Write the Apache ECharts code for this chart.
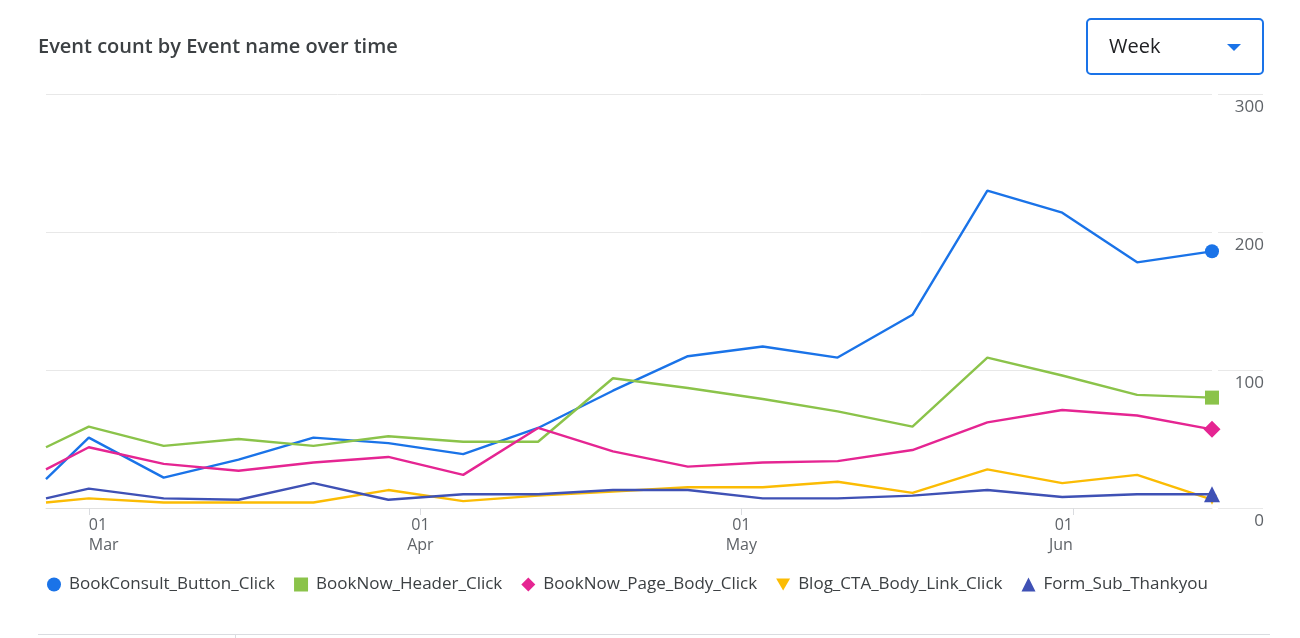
<!DOCTYPE html>
<html>
<head>
<meta charset="utf-8">
<script src="https://cdn.jsdelivr.net/npm/echarts@6/dist/echarts.min.js"></script>
<style>
  html, body { margin: 0; padding: 0; background: #fff; }
  #chart { width: 1300px; height: 638px; }
</style>
</head>
<body>
<div id="chart"></div>
<script>
// week start dates (first one is the partial week at the start of the range)
var weeks = ['2026-02-25', '2026-03-01', '2026-03-08', '2026-03-15', '2026-03-22', '2026-03-29',
             '2026-04-05', '2026-04-12', '2026-04-19', '2026-04-26', '2026-05-03', '2026-05-10',
             '2026-05-17', '2026-05-24', '2026-05-31', '2026-06-07', '2026-06-14'];
var monthTicks = ['2026-03-01', '2026-04-01', '2026-05-01', '2026-06-01'];
var monthNames = ['Jan', 'Feb', 'Mar', 'Apr', 'May', 'Jun', 'Jul', 'Aug', 'Sep', 'Oct', 'Nov', 'Dec'];
var yTicks = [0, 100, 200, 300];

var bookConsult = [21, 51, 22, 35, 51, 47, 39, 58, 85, 110, 117, 109, 140, 230, 214, 178, 186];
var bookNowHeader = [44, 59, 45, 50, 45, 52, 48, 48, 94, 87, 79, 70, 59, 109, 96, 82, 80];
var bookNowBody = [28, 44, 32, 27, 33, 37, 24, 58, 41, 30, 33, 34, 42, 62, 71, 67, 57];
var blogCta = [4, 7, 4, 4, 4, 13, 5, 9, 12, 15, 15, 19, 11, 28, 18, 24, 6];
var formSub = [7, 14, 7, 6, 18, 6, 10, 10, 13, 13, 7, 7, 9, 13, 8, 10, 10];

var downTri = 'path://M0,0L20,0L10,17Z';
var font = 'Open Sans';

var chart = echarts.init(document.getElementById('chart'));

// day number since the epoch, so the axis is a plain value axis
function dayNo(s) {
    var p = s.split('-');
    return Math.round(Date.UTC(+p[0], +p[1] - 1, +p[2]) / 86400000);
}

// only the last point gets a marker
function buildData(values, symbol, size, rotate) {
    var out = [];
    for (var i = 0; i < values.length; i++) {
        var item = { value: [dayNo(weeks[i]), values[i]] };
        if (i == values.length - 1) {
            item.symbol = symbol;
            item.symbolSize = size;
            if (rotate) item.symbolRotate = rotate;
        }
        out.push(item);
    }
    return out;
}

function makeSeries(name, color, values, symbol, size, rotate) {
    return {
        name: name,
        type: 'line',
        xAxisIndex: 0,
        yAxisIndex: 0,
        symbol: 'none',
        showSymbol: true,
        color: color,
        lineStyle: { width: 2.4, color: color },
        itemStyle: { color: color },
        emphasis: { disabled: true },
        data: buildData(values, symbol, size, rotate)
    };
}

var option = {
    animation: false,
    textStyle: { fontFamily: font },
    title: {
        text: 'Event count by Event name over time',
        left: 33,
        top: 32,
        textStyle: { fontSize: 20, fontWeight: 600, color: '#3c4043', fontFamily: font }
    },
    legend: {
        left: 42,
        top: 571,
        itemWidth: 14,
        itemHeight: 14,
        itemGap: 19,
        textStyle: { fontSize: 17, color: '#3c4043', fontFamily: font, padding: [0, 0, 0, 3] },
        data: [
            { name: 'BookConsult_Button_Click', icon: 'circle' },
            { name: 'BookNow_Header_Click', icon: 'rect' },
            { name: 'BookNow_Page_Body_Click', icon: 'diamond' },
            { name: 'Blog_CTA_Body_Link_Click', icon: downTri },
            { name: 'Form_Sub_Thankyou', icon: 'triangle' }
        ]
    },
    grid: [
        { left: 46, right: 88, top: 94, bottom: 130 },
        { left: 1218, width: 45, top: 94, bottom: 130 }
    ],
    xAxis: [
        {
            type: 'value',
            gridIndex: 0,
            min: dayNo(weeks[0]),
            max: dayNo(weeks[weeks.length - 1]),
            splitLine: { show: false },
            axisLine: { show: true, onZero: false, lineStyle: { color: '#e0e0e0', width: 1 } },
            axisTick: {
                show: true,
                customValues: monthTicks.map(dayNo),
                length: 7,
                lineStyle: { color: '#dadce0' }
            },
            axisLabel: {
                customValues: monthTicks.map(dayNo),
                alignMinLabel: 'left',
                alignMaxLabel: 'right',
                margin: 7,
                fontSize: 16,
                lineHeight: 20,
                fontFamily: font,
                color: '#5f6368',
                formatter: function (v) {
                    var d = new Date(v * 86400000);
                    var day = d.getUTCDate() < 10 ? '0' + d.getUTCDate() : '' + d.getUTCDate();
                    return day + '\n' + monthNames[d.getUTCMonth()];
                }
            }
        },
        { type: 'value', gridIndex: 1, show: false }
    ],
    yAxis: [
        {
            type: 'value',
            gridIndex: 0,
            position: 'right',
            min: yTicks[0],
            max: yTicks[yTicks.length - 1],
            interval: 100,
            axisLine: { show: false },
            axisTick: { show: false },
            splitLine: { lineStyle: { color: '#e8e8e8', width: 1 } },
            axisLabel: {
                align: 'right',
                verticalAlign: 'top',
                margin: 52,
                padding: [5, 0, 0, 0],
                fontSize: 17,
                fontFamily: font,
                color: '#5f6368'
            }
        },
        {
            type: 'value',
            gridIndex: 1,
            min: yTicks[0],
            max: yTicks[yTicks.length - 1],
            interval: 100,
            axisLine: { show: false },
            axisTick: { show: false },
            axisLabel: { show: false },
            splitLine: { lineStyle: { color: '#e8e8e8', width: 1 } }
        }
    ],
    graphic: [
        {
            type: 'rect',
            shape: { x: 1087, y: 19, width: 176, height: 55, r: 4 },
            style: { fill: '#fff', stroke: '#1a73e8', lineWidth: 2 }
        },
        {
            type: 'text',
            x: 1109,
            y: 47,
            style: { text: 'Week', fontSize: 20, fontFamily: font, fill: '#202124', verticalAlign: 'middle' }
        },
        {
            type: 'polygon',
            shape: { points: [[1227, 44], [1241, 44], [1234, 51]] },
            style: { fill: '#1a73e8' }
        },
        {
            type: 'line',
            shape: { x1: 38, y1: 634.5, x2: 1270, y2: 634.5 },
            style: { stroke: '#dadce0', lineWidth: 1 }
        },
        {
            type: 'line',
            shape: { x1: 235.5, y1: 634, x2: 235.5, y2: 638 },
            style: { stroke: '#dadce0', lineWidth: 1 }
        }
    ],
    series: [
        makeSeries('BookConsult_Button_Click', '#1a73e8', bookConsult, 'circle', 14),
        makeSeries('BookNow_Header_Click', '#8bc34a', bookNowHeader, 'rect', 14),
        makeSeries('BookNow_Page_Body_Click', '#e52592', bookNowBody, 'diamond', 17),
        makeSeries('Blog_CTA_Body_Link_Click', '#fbbc04', blogCta, 'triangle', 10, 180),
        makeSeries('Form_Sub_Thankyou', '#3f51b5', formSub, 'triangle', 16)
    ]
};
chart.setOption(option);
</script>
</body>
</html>
